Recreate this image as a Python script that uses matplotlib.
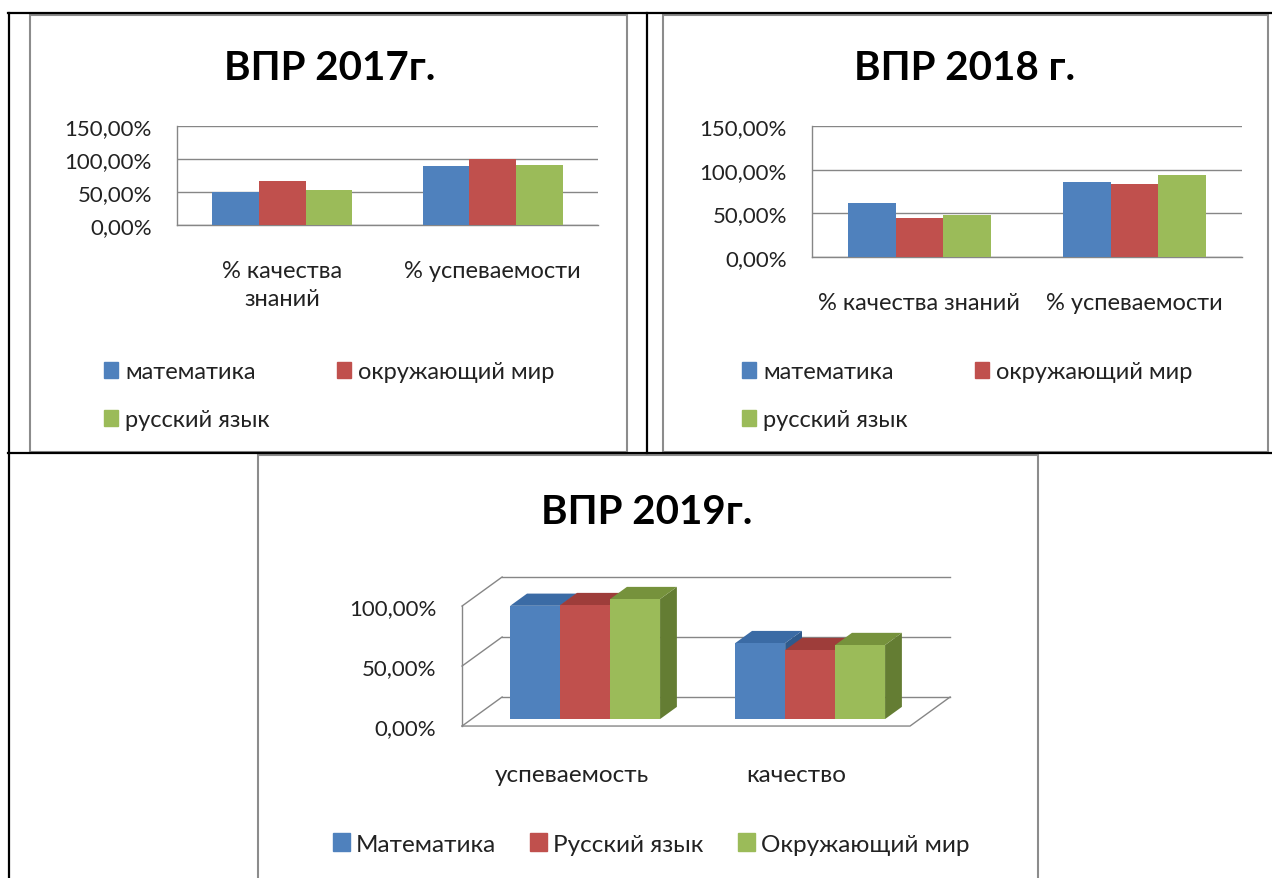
import numpy as np
import matplotlib.pyplot as plt
from matplotlib.lines import Line2D
from matplotlib.patches import Polygon, Rectangle, Patch
from matplotlib.ticker import FuncFormatter

plt.rcParams['font.family'] = ['Lato', 'DejaVu Sans']

W, H = 1272, 879

# данные (в процентах)
cats_17 = ['% качества\nзнаний', '% успеваемости']
math_17 = [49.3, 89.5]
world_17 = [66.4, 100.0]
rus_17 = [52.8, 91.5]
names_17 = ['математика', 'окружающий мир', 'русский язык']

cats_18 = ['% качества знаний', '% успеваемости']
math_18 = [61.8, 85.8]
world_18 = [44.6, 83.9]
rus_18 = [47.6, 94.2]
names_18 = ['математика', 'окружающий мир', 'русский язык']

cats_19 = ['успеваемость', 'качество']
math_19 = [94.4, 63.3]
rus_19 = [95.0, 57.5]
world_19 = [100.0, 61.7]
names_19 = ['Математика', 'Русский язык', 'Окружающий мир']

ticks_flat = [0, 50, 100, 150]
ticks_3d = [0, 50, 100]

BLUE, RED, GREEN = '#4F81BD', '#C0504D', '#9BBB59'
TOPS = ['#3B6BA5', '#9E3D3A', '#76923C']
SIDES = ['#2F5A8C', '#8A3431', '#647D33']
GRID = '#868686'
FRAME = '#8C8C8C'
TXT = '#222222'


def px_box(x0, y0, x1, y1):
    return [x0 / W, 1 - y1 / H, (x1 - x0) / W, (y1 - y0) / H]


def fig_line(x0, y0, x1, y1, color='black', lw=1.6):
    fig.add_artist(Line2D([x0 / W, x1 / W], [1 - y0 / H, 1 - y1 / H],
                          transform=fig.transFigure, color=color, lw=lw))


def pct(v, pos=None):
    return f'{v:.2f}'.replace('.', ',') + '%'


fig = plt.figure(figsize=(W / 100, H / 100), dpi=100)

# рамки диаграмм
for x0, y0, x1, y1 in [(30, 16, 627, 453), (663, 16, 1268, 453), (258, 456, 1038, 882)]:
    fig.add_artist(Rectangle((x0 / W, 1 - y1 / H), (x1 - x0) / W, (y1 - y0) / H,
                             transform=fig.transFigure, fill=False, ec=FRAME, lw=1.5))

# линии таблицы
fig_line(8, 14, 1272, 14)
fig_line(9, 14, 9, 879)
fig_line(647, 14, 647, 454)
fig_line(8, 454, 1272, 454)


def flat_chart(box, cats, series, names, title, title_x, leg_x):
    ax = fig.add_axes(px_box(*box))
    x = np.arange(len(cats))
    w = 0.222
    for i, (vals, color) in enumerate(zip(series, [BLUE, RED, GREEN])):
        ax.bar(x + (i - 1) * w, vals, w, color=color, zorder=3, label=names[i])
    ax.set_xlim(-0.5, len(cats) - 0.5)
    ax.set_ylim(0, 150)
    ax.set_yticks(ticks_flat)
    ax.yaxis.set_major_formatter(FuncFormatter(pct))
    ax.set_xticks(x)
    ax.set_xticklabels(cats, linespacing=1.45)
    ax.tick_params(axis='y', length=0, pad=18, labelsize=16, labelcolor=TXT)
    ax.tick_params(axis='x', length=0, pad=25, labelsize=17, labelcolor=TXT)
    ax.grid(axis='y', color=GRID, lw=1)
    ax.set_axisbelow(True)
    for s in ['top', 'right']:
        ax.spines[s].set_visible(False)
    for s in ['left', 'bottom']:
        ax.spines[s].set_color(GRID)
        ax.spines[s].set_linewidth(1)
    fig.text(title_x / W, 1 - 68 / H, title, ha='center', va='center',
             fontsize=29, fontweight='bold')
    # Excel заполняет легенду по строкам
    h = [Patch(color=c) for c in [BLUE, GREEN, RED]]
    lab = [names[0], names[2], names[1]]
    ax.legend(h, lab, ncol=2, loc='upper left',
              bbox_to_anchor=(leg_x / W, 1 - 362 / H), bbox_transform=fig.transFigure,
              fontsize=17, frameon=False, handlelength=0.6, handleheight=0.65,
              handletextpad=0.3, columnspacing=2.85, labelspacing=1.15,
              borderpad=0, borderaxespad=0, labelcolor=TXT)
    return ax


ax1 = flat_chart((177, 127, 598, 226), cats_17, [math_17, world_17, rus_17],
                 names_17, 'ВПР 2017г.', 330, 104)
ax2 = flat_chart((812, 127, 1242, 258), cats_18, [math_18, world_18, rus_18],
                 names_18, 'ВПР 2018 г.', 965, 742)

# объёмная диаграмма 2019
ax3 = fig.add_axes(px_box(440, 560, 960, 740))
ax3.set_xlim(-0.645, 1.666)
ax3.set_ylim(-10.8, 139.2)
ax3.axis('off')

wall_x0, wall_x1 = -0.547, 1.444
ddx, ddy = 0.178, 24.2
for t in ticks_3d:
    ax3.plot([wall_x0 + ddx, wall_x1 + ddx], [t + ddy, t + ddy], color=GRID, lw=1, zorder=1)
    ax3.plot([wall_x0, wall_x0 + ddx], [t, t + ddy], color=GRID, lw=1, zorder=1)
ax3.plot([wall_x0, wall_x0], [ticks_3d[0], ticks_3d[-1]], color=GRID, lw=1, zorder=1)
ax3.plot([wall_x0, wall_x1, wall_x1 + ddx], [0, 0, ddy], color=GRID, lw=1, zorder=1)

for t in ticks_3d:
    ax3.text(wall_x0 - 0.115, t - 2, pct(t), ha='right', va='center', fontsize=16, color=TXT)

x3 = np.arange(len(cats_19))
w3 = 0.222
f0, f1 = 0.24, 0.66
base = f0 * ddy
bdx, bdy = (f1 - f0) * ddx, (f1 - f0) * ddy
series_19 = [math_19, rus_19, world_19]
fronts = [BLUE, RED, GREEN]
z = 2
for j in range(len(cats_19)):
    for i in range(3):
        v = series_19[i][j]
        xl = x3[j] + (i - 1.5) * w3
        xr = xl + w3
        ax3.add_patch(Polygon([(xr, base), (xr + bdx, base + bdy), (xr + bdx, base + v + bdy), (xr, base + v)],
                              closed=True, fc=SIDES[i], ec='none', zorder=z))
        ax3.add_patch(Polygon([(xl, base + v), (xr, base + v), (xr + bdx, base + v + bdy), (xl + bdx, base + v + bdy)],
                              closed=True, fc=TOPS[i], ec='none', zorder=z))
        ax3.bar(xl, v, w3, bottom=base, align='edge', color=fronts[i], zorder=z,
                label=names_19[i] if j == 0 else None)
        z += 1

for j, c in enumerate(cats_19):
    ax3.text(x3[j] - 0.06, -40, c, ha='center', va='center', fontsize=17.5, color=TXT)

fig.text(647 / W, 1 - 513 / H, 'ВПР 2019г.', ha='center', va='center', fontsize=29, fontweight='bold')

h3 = [Patch(color=c) for c in fronts]
fig.legend(h3, names_19, ncol=3, loc='center left', bbox_to_anchor=(333 / W, 1 - 845 / H),
           fontsize=17.5, frameon=False, handlelength=0.7, handleheight=0.7,
           handletextpad=0.25, columnspacing=1.4, borderpad=0, borderaxespad=0,
           labelcolor=TXT)

plt.savefig('out.png', dpi=100)
